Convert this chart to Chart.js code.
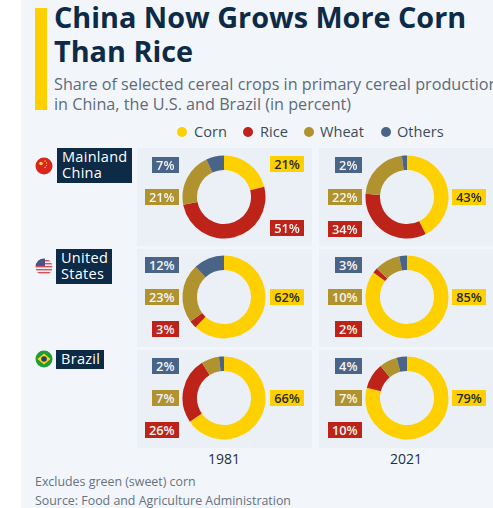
<!DOCTYPE html>
<html>
<head>
<meta charset="utf-8">
<script src="https://cdn.jsdelivr.net/npm/chart.js@4"></script>
<style>
    html, body { margin: 0; padding: 0; background: #fff; }
    #page {
        position: relative; width: 493px; height: 508px; overflow: hidden;
        font-family: "Open Sans", sans-serif;
    }
    #bg { position: absolute; left: 21px; top: 0; width: 472px; height: 508px; background: #f2f6fb; }
    #bar { position: absolute; left: 35px; top: 8px; width: 12px; height: 102px; background: #ffd000; }
    .abs { position: absolute; white-space: nowrap; }
    #title { left: 54px; top: 0; font-size: 28.8px; line-height: 33.5px; font-weight: 700; color: #0d2a47; }
    #subtitle { left: 54px; top: 73.5px; font-size: 16.2px; line-height: 20.5px; color: #5d6b78; }
    .legend-dot { position: absolute; width: 10px; height: 10px; border-radius: 50%; top: 127px; }
    .legend-text { top: 122px; font-size: 14.6px; line-height: 19px; color: #3d4b58; }
    .panel { position: absolute; background: #ebeff6; height: 98px; }
    .region { background: #0d2a47; color: #fff; font-size: 14.5px; line-height: 16px; padding: 1px 0 0 5px; box-sizing: border-box; letter-spacing: .3px; }
    .chip { height: 16px; line-height: 16px; font-size: 12.8px; font-weight: 600; text-align: center; }
    .year { font-size: 14px; line-height: 18px; color: #1f2f3f; transform: translateX(-50%); }
    .note { left: 35px; font-size: 12.4px; line-height: 16px; color: #66727e; }
    canvas { position: absolute; }
    svg { position: absolute; }
</style>
</head>
<body>
<div id="page">
    <div id="bg"></div>
    <div id="bar"></div>
    <div id="title" class="abs">China Now Grows More Corn<br>Than Rice</div>
    <div id="subtitle" class="abs">Share of selected cereal crops in primary cereal production<br>in China, the U.S. and Brazil (in percent)</div>

    <!-- flags -->
    <svg style="left:35px;top:157px" width="18" height="18" viewBox="0 0 18 18">
        <circle cx="9" cy="9" r="8.5" fill="#d9261c"/>
        <circle cx="6" cy="6.5" r="1.8" fill="#ffd23a"/>
        <circle cx="10" cy="4" r=".7" fill="#ffd23a"/><circle cx="11.5" cy="6" r=".7" fill="#ffd23a"/>
        <circle cx="11.5" cy="8.5" r=".7" fill="#ffd23a"/><circle cx="10" cy="10.5" r=".7" fill="#ffd23a"/>
    </svg>
    <svg style="left:35px;top:258px" width="18" height="18" viewBox="0 0 18 18">
        <defs><clipPath id="usclip"><circle cx="9" cy="9" r="8.5"/></clipPath></defs>
        <g clip-path="url(#usclip)">
            <rect width="18" height="18" fill="#f4f0f0"/>
            <rect y="2" width="18" height="1.4" fill="#d2535f"/><rect y="5" width="18" height="1.4" fill="#d2535f"/>
            <rect y="8" width="18" height="1.4" fill="#d2535f"/><rect y="11" width="18" height="1.4" fill="#d2535f"/>
            <rect y="14" width="18" height="1.4" fill="#d2535f"/>
            <rect width="10" height="8" fill="#48548a"/>
        </g>
    </svg>
    <svg style="left:35px;top:350px" width="18" height="18" viewBox="0 0 18 18">
        <circle cx="9" cy="9" r="8.5" fill="#1f9a3c"/>
        <path d="M9 3.5 L15.5 9 L9 14.5 L2.5 9 Z" fill="#ffd800"/>
        <circle cx="9" cy="9" r="2.8" fill="#1d3f80"/>
    </svg>

    <div class="abs region" style="left:57px;top:148px;width:75px;height:35px">Mainland<br>China</div>
    <div class="abs region" style="left:56px;top:249px;width:56px;height:35px">United<br>States</div>
    <div class="abs region" style="left:56px;top:350px;width:48px;height:19px">Brazil</div>

    <div id="title2" class="abs year" style="left:224px;top:450px"></div>
    <div id="title3" class="abs year" style="left:406px;top:450px"></div>
    <div class="abs note" style="top:474px">Excludes green (sweet) corn</div>
    <div class="abs note" style="top:493px">Source: Food and Agriculture Administration</div>
</div>
<script>
    // shares in percent, one entry per donut: China 81, China 21, US 81, US 21, Brazil 81, Brazil 21
    var crops = ['Corn', 'Rice', 'Wheat', 'Others'];
    var years = ['1981', '2021'];
    var corn = [21, 43, 62, 85, 66, 79];
    var rice = [51, 34, 3, 2, 26, 10];
    var wheat = [21, 22, 23, 10, 7, 7];
    var others = [7, 2, 12, 3, 2, 4];

    var colors = ['#ffd000', '#bd2318', '#b0922f', '#4a6488'];
    var page = document.getElementById('page');

    function addDiv(cls, css, text) {
        var d = document.createElement('div');
        d.className = cls;
        d.style.cssText = css;
        if (text) d.textContent = text;
        page.appendChild(d);
        return d;
    }

    // legend
    var legendDots = [177, 243, 304, 381];
    var legendText = [194, 260, 320, 397];
    crops.forEach(function (c, i) {
        addDiv('legend-dot', 'left:' + legendDots[i] + 'px;background:' + colors[i]);
        addDiv('abs legend-text', 'left:' + legendText[i] + 'px', c);
    });

    document.getElementById('title2').textContent = years[0];
    document.getElementById('title3').textContent = years[1];

    var colX = [224, 407];
    var rowY = [197, 297, 398];
    var panelX = [137, 319];
    var panelW = [175, 174];
    var panelTop = [148, 249, 350];
    var chipLeftEdge = [179, 362];
    var chipRightStart = [270, 452];

    function addChip(col, cy, value, color, onRight) {
        var text = value + '%';
        var w = onRight ? 34 : (value >= 10 ? 34.5 : 27.5);
        var left = onRight ? chipRightStart[col] : chipLeftEdge[col] - w;
        addDiv('abs chip', 'left:' + left + 'px;top:' + (cy - 8) + 'px;width:' + w + 'px;background:' + color +
            ';color:' + (color === colors[0] ? '#2a2a1a' : '#f4f4f0'), text);
    }

    for (var i = 0; i < corn.length; i++) {
        var row = Math.floor(i / 2), col = i % 2;
        var cy = rowY[row], cx = colX[col];

        addDiv('panel', 'left:' + panelX[col] + 'px;top:' + panelTop[row] + 'px;width:' + panelW[col] + 'px');

        var cv = document.createElement('canvas');
        cv.width = 86;
        cv.height = 86;
        cv.style.left = (cx - 43) + 'px';
        cv.style.top = (cy - 43) + 'px';
        page.appendChild(cv);

        new Chart(cv.getContext('2d'), {
            type: 'doughnut',
            data: {
                labels: crops,
                datasets: [{
                    data: [corn[i], rice[i], wheat[i], others[i]],
                    backgroundColor: colors,
                    borderWidth: 0
                }]
            },
            options: {
                responsive: false,
                animation: false,
                radius: 41.5,
                cutout: 28,
                plugins: { legend: { display: false }, tooltip: { enabled: false } }
            }
        });

        // the 1981 China donut has its corn and rice tags stacked on the right
        if (i === 0) {
            addChip(col, cy - 33, corn[i], colors[0], true);
            addChip(col, cy + 31, rice[i], colors[1], true);
        } else {
            addChip(col, cy, corn[i], colors[0], true);
            addChip(col, cy + 32, rice[i], colors[1], false);
        }
        addChip(col, cy, wheat[i], colors[2], false);
        addChip(col, cy - 32, others[i], colors[3], false);
    }
</script>
</body>
</html>
